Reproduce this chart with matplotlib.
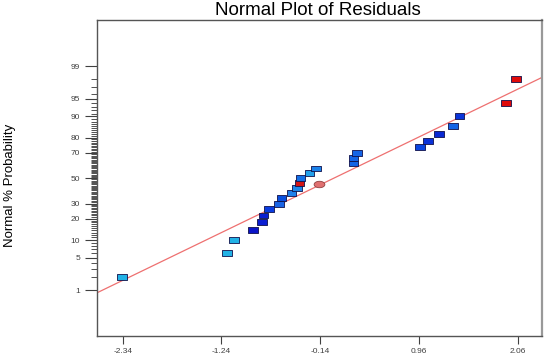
import numpy as np
import matplotlib.pyplot as plt
from matplotlib.path import Path
from statistics import NormalDist

plt.rcParams['font.family'] = ['Liberation Sans', 'DejaVu Sans']

# residuals and normal % probability
residuals = [-2.35, -1.18, -1.10, -0.89, -0.79, -0.77, -0.71, -0.60, -0.57,
             -0.46, -0.40, -0.37, -0.36, -0.26, -0.19, 0.23, 0.23, 0.27,
             0.97, 1.06, 1.18, 1.34, 1.41, 1.93, 2.04]
probability = [2, 6, 10, 14, 18, 22, 26, 30, 34, 38, 42, 46, 50, 54, 58,
               62, 66, 70, 74, 78, 82, 86, 90, 94, 98]
point_colors = ['#22b2e6', '#22b2e6', '#22b2e6', '#0a14c8', '#0a1ed2',
                '#0a1ed2', '#0a3ce0', '#1a64e4', '#0a50de', '#2080ea',
                '#2088ea', '#d41414', '#1470e6', '#22a0ea', '#1a82ea',
                '#1464e6', '#1464e6', '#1464e6', '#0a46e0', '#0a32d8',
                '#0a28d2', '#1464e6', '#0a34da', '#e00a0a', '#e00a0a']

# highlighted point (ellipse)
sel_residual = -0.155
sel_probability = 45.0

# fitted normal line
fit_mean = 0.01
fit_sd = 1.11

x_ticks = [-2.34, -1.24, -0.14, 0.96, 2.06]
y_ticks = [1, 5, 10, 20, 30, 50, 70, 80, 90, 95, 99]
y_minor = list(range(1, 100))

nd = NormalDist()


def to_z(p):
    return np.array([nd.inv_cdf(v / 100.0) for v in np.atleast_1d(p)])


rect = Path([(-1, -0.62), (1, -0.62), (1, 0.62), (-1, 0.62), (-1, -0.62)],
            [Path.MOVETO, Path.LINETO, Path.LINETO, Path.LINETO, Path.CLOSEPOLY])
t = np.linspace(0, 2 * np.pi, 60)
ellipse = Path(np.column_stack([np.cos(t), 0.6 * np.sin(t)]))

fig = plt.figure(figsize=(5.5, 3.61), dpi=100)
ax = fig.add_axes([0.1764, 0.0693, 0.8091, 0.8753])

xmin, xmax = -2.626, 2.33
ax.set_xlim(xmin, xmax)
ax.set_ylim(-3.27, 3.28)

# fitted line
lx = np.array([xmin, xmax])
ax.plot(lx, (lx - fit_mean) / fit_sd, color='#ee7070', lw=0.9, zorder=2)

ax.scatter(residuals, to_z(probability), marker=rect, s=48, c=point_colors,
           edgecolors='#10104a', linewidths=0.6, zorder=3)
ax.scatter([sel_residual], to_z([sel_probability]), marker=ellipse, s=60,
           c='#e07070', edgecolors='#904040', linewidths=0.6, zorder=4)

ax.set_xticks(x_ticks)
ax.set_xticklabels(['%.2f' % v for v in x_ticks])
ax.set_yticks(to_z(y_ticks))
ax.set_yticklabels([str(v) for v in y_ticks])
ax.set_yticks(to_z(y_minor), minor=True)

ax.tick_params(axis='x', direction='out', length=5.8, width=0.8,
               color='#404040', labelsize=6, labelcolor='#404040', pad=3)
ax.tick_params(axis='y', which='major', direction='out', length=8.6,
               width=0.8, color='#404040', labelsize=6,
               labelcolor='#404040', pad=3.5)
ax.tick_params(axis='y', which='minor', direction='out', length=4.5,
               width=0.7, color='#505050')

for side in ['left', 'bottom', 'top']:
    ax.spines[side].set_color('#555555')
    ax.spines[side].set_linewidth(1.0)
ax.spines['right'].set_color('#999999')
ax.spines['right'].set_linewidth(1.6)

fig.text(0.5782, 0.971, 'Normal Plot of Residuals', ha='center',
         va='center', fontsize=13.5)
fig.text(0.018, 0.4875, 'Normal % Probability', ha='center', va='center',
         rotation=90, fontsize=9.5)

fig.savefig('out.png', dpi=100)
